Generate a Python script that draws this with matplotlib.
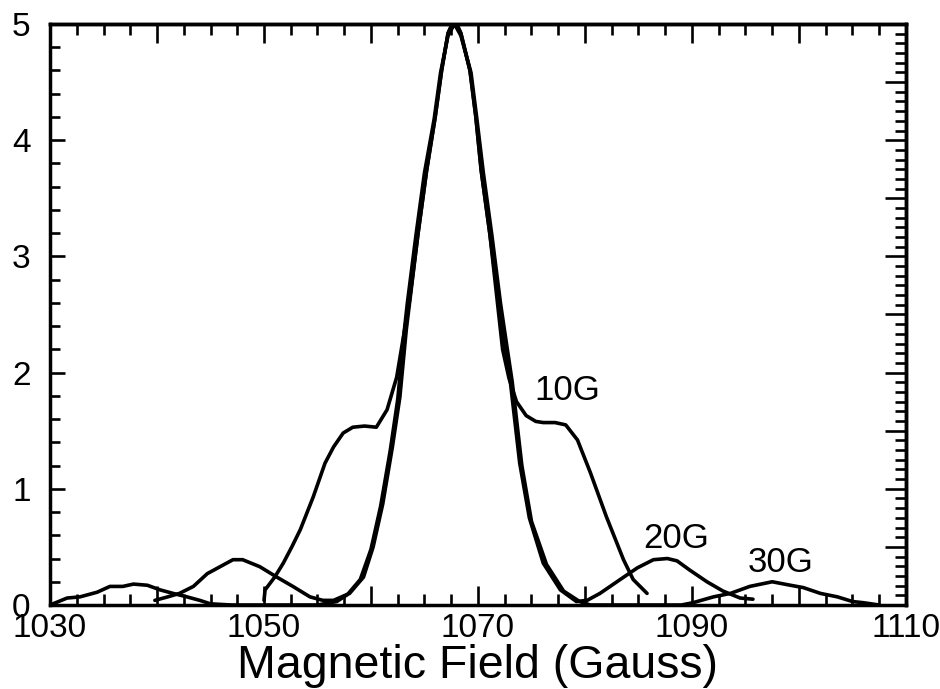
import matplotlib
matplotlib.use('Agg')
import matplotlib.pyplot as plt
from matplotlib.ticker import MultipleLocator

plt.rcParams['font.family'] = ['Liberation Sans', 'DejaVu Sans']

# ---- data ----
x_10G = [1050.0, 1050.1, 1051.0, 1051.8, 1052.6, 1053.4, 1054.6, 1055.7, 1056.5, 1057.4,
         1058.3, 1059.4, 1060.5, 1061.5, 1062.4, 1063.2, 1063.6, 1064.4, 1065.2, 1066.0,
         1066.6, 1067.2, 1067.5, 1067.8, 1068.1, 1068.4, 1069.25, 1069.8, 1070.3, 1071.1,
         1071.7, 1072.3, 1072.9, 1073.6, 1074.5, 1075.4, 1076.1, 1077.2, 1078.2, 1079.3,
         1080.5, 1082.0, 1083.6, 1084.5, 1085.8]
y_10G = [0.04, 0.13, 0.24, 0.36, 0.5, 0.65, 0.93, 1.22, 1.36, 1.48,
         1.53, 1.54, 1.53, 1.68, 1.96, 2.4, 2.62, 3.2, 3.74, 4.2,
         4.6, 4.92, 4.98, 5.0, 4.98, 4.92, 4.6, 4.2, 3.74, 3.2,
         2.7, 2.2, 1.95, 1.75, 1.63, 1.58, 1.57, 1.57, 1.55, 1.42,
         1.14, 0.76, 0.39, 0.22, 0.10]

x_20G = [1039.8, 1041.0, 1042.1, 1043.4, 1044.7, 1045.9, 1047.1, 1048.0, 1049.6, 1051.2,
         1052.7, 1054.3, 1055.5, 1056.5, 1058.0, 1059.3, 1060.2, 1061.1, 1062.0, 1062.7,
         1063.3, 1064.4, 1065.2, 1066.0, 1066.6, 1067.2, 1067.5, 1067.8, 1068.1, 1068.4,
         1069.25, 1069.8, 1070.3, 1071.1, 1071.9, 1072.3, 1073.0, 1073.9, 1074.8, 1076.1,
         1077.7, 1079.2, 1080.2, 1081.4, 1083.3, 1084.9, 1086.4, 1087.7, 1088.6, 1089.8,
         1091.4, 1092.9, 1094.5, 1095.7]
y_20G = [0.04, 0.07, 0.10, 0.16, 0.27, 0.33, 0.39, 0.39, 0.33, 0.24,
         0.16, 0.07, 0.04, 0.04, 0.10, 0.24, 0.50, 0.87, 1.36, 1.79,
         2.37, 3.2, 3.74, 4.2, 4.6, 4.92, 4.98, 5.0, 4.98, 4.92,
         4.6, 4.2, 3.74, 3.2, 2.62, 2.37, 1.94, 1.22, 0.75, 0.36,
         0.13, 0.03, 0.04, 0.10, 0.22, 0.32, 0.39, 0.40, 0.38, 0.30,
         0.20, 0.12, 0.06, 0.05]

x_30G = [1030.0, 1031.6, 1032.8, 1034.4, 1035.6, 1036.8, 1037.8, 1039.1, 1040.3, 1041.5,
         1042.8, 1044.0, 1045.0, 1047.0, 1055.0, 1056.8, 1057.8, 1059.0, 1060.0, 1060.9,
         1061.8, 1062.5, 1063.1, 1063.4, 1064.2, 1065.0, 1065.9, 1066.5, 1067.2, 1067.8,
         1068.4, 1069.35, 1069.9, 1070.5, 1071.3, 1072.1, 1072.5, 1073.2, 1074.1, 1075.0,
         1076.4, 1078.0, 1079.5, 1080.5, 1089.0, 1090.1, 1092.0, 1093.6, 1095.4, 1097.5,
         1099.2, 1100.4, 1102.0, 1103.6, 1105.0, 1106.0, 1107.5]
y_30G = [0.0, 0.06, 0.07, 0.11, 0.16, 0.16, 0.18, 0.17, 0.13, 0.10,
         0.07, 0.04, 0.01, 0.0, 0.0, 0.03, 0.09, 0.22, 0.48, 0.85,
         1.33, 1.77, 2.35, 2.6, 3.18, 3.72, 4.18, 4.58, 4.9, 5.0,
         4.9, 4.58, 4.18, 3.72, 3.18, 2.6, 2.35, 1.92, 1.2, 0.72,
         0.35, 0.12, 0.03, 0.0, 0.0, 0.02, 0.07, 0.10, 0.16, 0.20,
         0.17, 0.15, 0.10, 0.07, 0.03, 0.02, 0.0]

curve_names = ['10G', '20G', '30G']
label_x = [1075.3, 1085.4, 1095.2]
label_y = [1.76, 0.49, 0.28]

x_major_ticks = [1030, 1040, 1050, 1060, 1070, 1080, 1090, 1100, 1110]
x_tick_labels = ['1030', '', '1050', '', '1070', '', '1090', '', '1110']
y_major_ticks = [0, 1, 2, 3, 4, 5]
y_tick_labels = ['0', '1', '2', '3', '4', '5']
x_label = 'Magnetic Field (Gauss)'

# ---- figure ----
fig = plt.figure(figsize=(9.4, 6.89), dpi=100)
ax = fig.add_axes([0.0532, 0.1219, 0.9106, 0.8433])

for xs, ys in [(x_10G, y_10G), (x_20G, y_20G), (x_30G, y_30G)]:
    ax.plot(xs, ys, color='black', lw=2.6, solid_joinstyle='round', solid_capstyle='round')

for name, lx, ly in zip(curve_names, label_x, label_y):
    ax.text(lx, ly, name, fontsize=25, ha='left', va='baseline', color='black')

ax.set_xlim(1030, 1110)
ax.set_ylim(0, 5)

for s in ax.spines.values():
    s.set_linewidth(2.5)

ax.set_xticks(x_major_ticks)
ax.set_xticklabels(x_tick_labels)
ax.xaxis.set_minor_locator(MultipleLocator(2.5))
ax.set_yticks(y_major_ticks)
ax.set_yticklabels(y_tick_labels)
ax.yaxis.set_minor_locator(MultipleLocator(0.2))

ax.tick_params(axis='x', which='major', direction='in', length=14, width=1.9,
               labelsize=24, pad=6, top=False)
ax.tick_params(axis='x', which='minor', direction='in', length=8, width=1.9, top=False)
ax.tick_params(axis='y', which='major', direction='in', length=11, width=1.9,
               labelsize=24, pad=14, right=False)
ax.tick_params(axis='y', which='minor', direction='in', length=7, width=1.9, right=False)

secx = ax.secondary_xaxis('top')
secx.set_xticks(x_major_ticks)
secx.xaxis.set_minor_locator(MultipleLocator(2.5))
secx.tick_params(axis='x', which='major', direction='in', length=14, width=1.9, labeltop=False)
secx.tick_params(axis='x', which='minor', direction='in', length=8, width=1.9)
secx.spines['top'].set_linewidth(2.5)

secy = ax.secondary_yaxis('right')
secy.yaxis.set_major_locator(MultipleLocator(0.5))
secy.yaxis.set_minor_locator(MultipleLocator(0.5 / 6))
secy.tick_params(axis='y', which='major', direction='in', length=15, width=1.9, labelright=False)
secy.tick_params(axis='y', which='minor', direction='in', length=8, width=1.9)
secy.spines['right'].set_linewidth(2.5)

ax.set_xlabel(x_label, fontsize=33.5, labelpad=0)

fig.savefig('out.png', dpi=100)
